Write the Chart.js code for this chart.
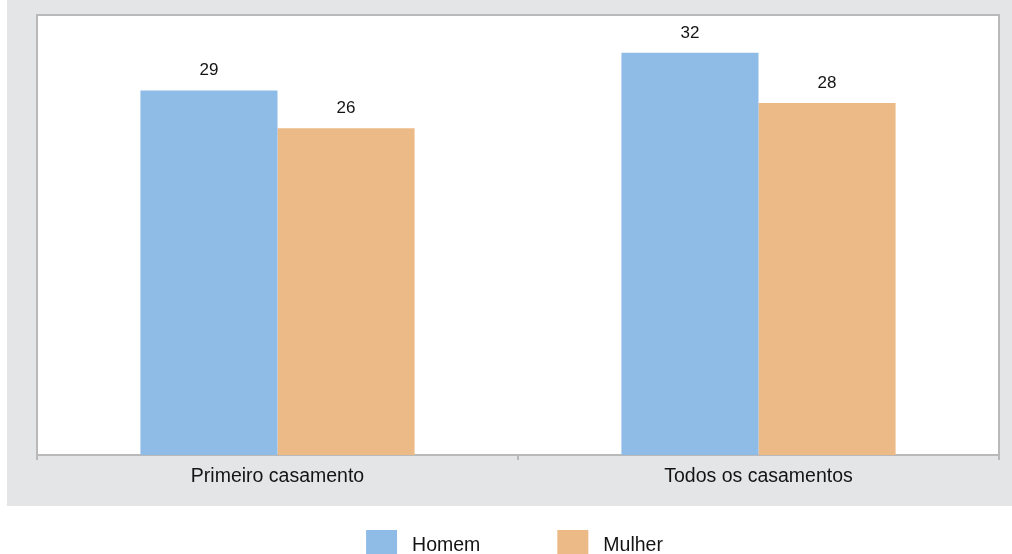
<!DOCTYPE html>
<html>
<head>
<meta charset="utf-8">
<script src="https://cdn.jsdelivr.net/npm/chart.js@4/dist/chart.umd.min.js"></script>
<style>
  html, body { margin: 0; padding: 0; background: #fff; }
  #wrap { width: 1012px; height: 554px; }
</style>
</head>
<body>
<div id="wrap"><canvas id="chart" width="1012" height="554"></canvas></div>
<script>
// idade média ao casar
const categories = ["Primeiro casamento", "Todos os casamentos"];
const seriesNames = ["Homem", "Mulher"];
const homem = [29, 32];
const mulher = [26, 28];
const yMax = 35;

const FONT = "'Liberation Sans', Arial, Helvetica, sans-serif";
const lineGray = "#b9b9b9";
const textColor = "#141414";

// fundo cinza, área branca e moldura do gráfico
const framePlugin = {
  id: "frame",
  beforeDraw(chart) {
    const ctx = chart.ctx;
    const a = chart.chartArea;
    ctx.save();
    ctx.fillStyle = "#ffffff";
    ctx.fillRect(0, 0, chart.width, chart.height);
    ctx.fillStyle = "#e4e5e6";
    ctx.fillRect(7, 0, chart.width - 7, 506);
    ctx.fillStyle = "#ffffff";
    ctx.fillRect(a.left, a.top, a.right - a.left, a.bottom - a.top);
    ctx.strokeStyle = lineGray;
    ctx.lineWidth = 2;
    ctx.beginPath();
    ctx.moveTo(a.left, a.bottom);
    ctx.lineTo(a.left, a.top);
    ctx.lineTo(a.right, a.top);
    ctx.lineTo(a.right, a.bottom);
    ctx.stroke();
    ctx.restore();
  }
};

// valores acima das barras
const valuePlugin = {
  id: "values",
  afterDatasetsDraw(chart) {
    const ctx = chart.ctx;
    ctx.save();
    ctx.font = "17px " + FONT;
    ctx.fillStyle = textColor;
    ctx.textAlign = "center";
    ctx.textBaseline = "alphabetic";
    chart.data.datasets.forEach((ds, i) => {
      chart.getDatasetMeta(i).data.forEach((bar, j) => {
        ctx.fillText(String(ds.data[j]), bar.x, bar.y - 15);
      });
    });
    ctx.restore();
  }
};

// legenda embaixo
const legendPlugin = {
  id: "bottomLegend",
  afterDraw(chart) {
    const ctx = chart.ctx;
    const box = 31, gap = 15, spacing = 77, cy = 545.5;
    ctx.save();
    ctx.font = "19.5px " + FONT;
    ctx.textBaseline = "middle";
    const items = chart.data.datasets.map(ds => ({
      label: ds.label, color: ds.backgroundColor,
      w: box + gap + ctx.measureText(ds.label).width
    }));
    const total = items.reduce((s, it) => s + it.w, 0) + spacing * (items.length - 1);
    let x = 514.5 - total / 2;
    items.forEach(it => {
      ctx.fillStyle = it.color;
      ctx.fillRect(x, cy - box / 2, box, box);
      ctx.fillStyle = textColor;
      ctx.fillText(it.label, x + box + gap, cy);
      x += it.w + spacing;
    });
    ctx.restore();
  }
};

new Chart(document.getElementById("chart"), {
  type: "bar",
  data: {
    labels: categories,
    datasets: [
      { label: seriesNames[0], data: homem, backgroundColor: "#8fbce6" },
      { label: seriesNames[1], data: mulher, backgroundColor: "#ecba87" }
    ]
  },
  options: {
    responsive: false,
    animation: false,
    layout: { padding: { left: 37, right: 13, top: 15, bottom: 0 } },
    datasets: { bar: { barPercentage: 1, categoryPercentage: 0.57 } },
    plugins: {
      legend: { display: false },
      tooltip: { enabled: false }
    },
    scales: {
      x: {
        afterFit(scale) { scale.height = 99; },
        grid: {
          offset: true,
          drawOnChartArea: false,
          tickLength: 5,
          color: lineGray,
          lineWidth: 2
        },
        border: { color: lineGray, width: 2 },
        ticks: {
          padding: 5,
          color: textColor,
          font: { family: FONT, size: 19.5 }
        }
      },
      y: {
        display: false,
        min: 0,
        max: yMax
      }
    }
  },
  plugins: [framePlugin, valuePlugin, legendPlugin]
});
</script>
</body>
</html>
